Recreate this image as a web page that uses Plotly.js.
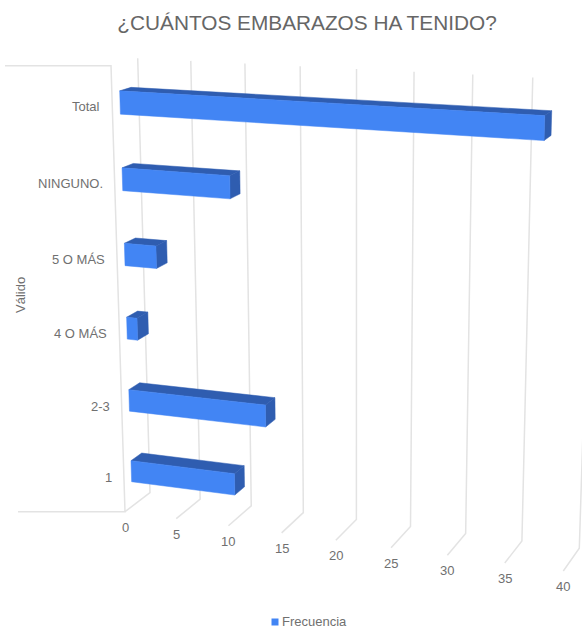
<!DOCTYPE html>
<html>
<head>
<meta charset="utf-8">
<script src="https://cdn.plot.ly/plotly-3.0.1.min.js"></script>
<style>html,body{margin:0;padding:0;background:#fff}#chart{width:582px;height:628px}</style>
</head>
<body>
<div id="chart"></div>
<script>
// Frequencies per answer, listed from the bottom of the chart to the top
const categorias = ['1', '2-3', '4 O MÁS', '5 O MÁS', 'NINGUNO.', 'Total'];
const frecuencias = [10, 13, 1, 3, 10, 37];
const ticksValor = [0, 5, 10, 15, 20, 25, 30, 35, 40];
const valorMax = 40;

const titulo = '¿CUÁNTOS EMBARAZOS HA TENIDO?';
const tituloEje = 'Válido';
const serie = 'Frecuencia';

const FUENTE = 'Liberation Sans, Arial, sans-serif';
const GRIS_TEXTO = '#707070';
const GRID = '#e3e3e3';
const AZUL = '#4285f4';
const AZUL_OSCURO = '#2f5db0';

// Oblique box view: the two vertical planes of the box are perspective quads
// spanned by (value, category slot); depth blends between them.
function quadMap(q) {
  const [[x0, y0], [x1, y1], [x2, y2], [x3, y3]] = q;
  const dx1 = x1 - x2, dx2 = x3 - x2, dx3 = x0 - x1 + x2 - x3;
  const dy1 = y1 - y2, dy2 = y3 - y2, dy3 = y0 - y1 + y2 - y3;
  const det = dx1 * dy2 - dx2 * dy1;
  const g = (dx3 * dy2 - dx2 * dy3) / det, h = (dx1 * dy3 - dx3 * dy1) / det;
  const a = x1 - x0 + g * x1, b = x3 - x0 + h * x3;
  const d = y1 - y0 + g * y1, e = y3 - y0 + h * y3;
  return (u, w) => {
    const k = g * u + h * w + 1;
    return [(a * u + b * w + x0) / k, (d * u + e * w + y0) / k];
  };
}
const planoFrente = quadMap([[125, 511.7], [563.3, 571], [578.4, 91.5], [111, 65.7]]);
const planoFondo = quadMap([[150, 492.7], [579.3, 548.3], [594, 80.5], [137.7, 58.3]]);

function proyecta(valor, slot, prof) {
  const u = valor / valorMax, w = slot / categorias.length;
  const p = planoFrente(u, w), q = planoFondo(u, w);
  return [p[0] + (q[0] - p[0]) * prof, p[1] + (q[1] - p[1]) * prof];
}

const trazas = [];
function linea(puntos) {
  trazas.push({
    type: 'scatter', mode: 'lines', hoverinfo: 'skip', showlegend: false,
    x: puntos.map(p => p[0]), y: puntos.map(p => p[1]),
    line: { color: GRID, width: 1.5 }
  });
}
function cara(puntos, color, nombre) {
  const cerrado = puntos.concat([puntos[0]]);
  trazas.push({
    type: 'scatter', mode: 'lines', fill: 'toself', fillcolor: color, showlegend: false,
    name: nombre, hoverinfo: 'name',
    x: cerrado.map(p => p[0]), y: cerrado.map(p => p[1]),
    line: { color: color, width: 0.5 }
  });
}

// Side wall to the left of the box
const esqInf = proyecta(0, 0, 0), esqSup = proyecta(0, categorias.length, 0);
linea([[5, esqSup[1]], esqSup, esqInf, [18, esqInf[1]]]);

// Gridlines up the back wall and across the floor
ticksValor.forEach(t => {
  linea([proyecta(t, categorias.length, 1), proyecta(t, 0, 1), proyecta(t, 0, 0)]);
});

// One box per category
const PROF_A = 0.295, PROF_B = 0.72, MEDIO = 0.15;
frecuencias.forEach((f, i) => {
  const c = i + 0.5, alto = c + MEDIO, bajo = c - MEDIO, nombre = categorias[i] + ': ' + f;
  cara([proyecta(0, alto, PROF_A), proyecta(f, alto, PROF_A), proyecta(f, alto, PROF_B), proyecta(0, alto, PROF_B)], AZUL_OSCURO, nombre);
  cara([proyecta(f, alto, PROF_A), proyecta(f, bajo, PROF_A), proyecta(f, bajo, PROF_B), proyecta(f, alto, PROF_B)], AZUL_OSCURO, nombre);
  cara([proyecta(0, alto, PROF_A), proyecta(f, alto, PROF_A), proyecta(f, bajo, PROF_A), proyecta(0, bajo, PROF_A)], AZUL, nombre);
});

// Legend swatch
trazas.push({
  type: 'scatter', mode: 'markers', x: [275], y: [622], name: serie, showlegend: false, hoverinfo: 'skip',
  marker: { symbol: 'square', size: 7, color: AZUL }
});

const texto = (x, y, text, extra) => Object.assign({
  x, y, text, xref: 'x', yref: 'y', showarrow: false, xanchor: 'center', yanchor: 'middle',
  font: { family: FUENTE, size: 13, color: GRIS_TEXTO }
}, extra || {});

const notas = [];
ticksValor.forEach(t => {
  const p = proyecta(t, 0, 0);
  notas.push(texto(p[0], p[1] + 15.5, String(t)));
});
categorias.forEach((c, i) => {
  const p = proyecta(0, i + 0.5, 0);
  notas.push(texto(p[0] - 10, p[1] + 1, c, { xanchor: 'right' }));
});
notas.push(texto(20, 295, tituloEje, { textangle: -90 }));
notas.push(texto(280, 621.5, serie, { xanchor: 'left' }));

Plotly.newPlot('chart', trazas, {
  width: 582, height: 628,
  margin: { l: 0, r: 0, t: 0, b: 0 },
  paper_bgcolor: '#ffffff', plot_bgcolor: '#ffffff',
  showlegend: false,
  title: {
    text: titulo, x: 307 / 582, xanchor: 'center', y: 1 - 23 / 628, yanchor: 'middle',
    font: { family: FUENTE, size: 20.8, color: '#666666' }
  },
  xaxis: { range: [0, 582], visible: false, fixedrange: true },
  yaxis: { range: [628, 0], visible: false, fixedrange: true },
  annotations: notas
}, { displayModeBar: false, staticPlot: true });
</script>
</body>
</html>
